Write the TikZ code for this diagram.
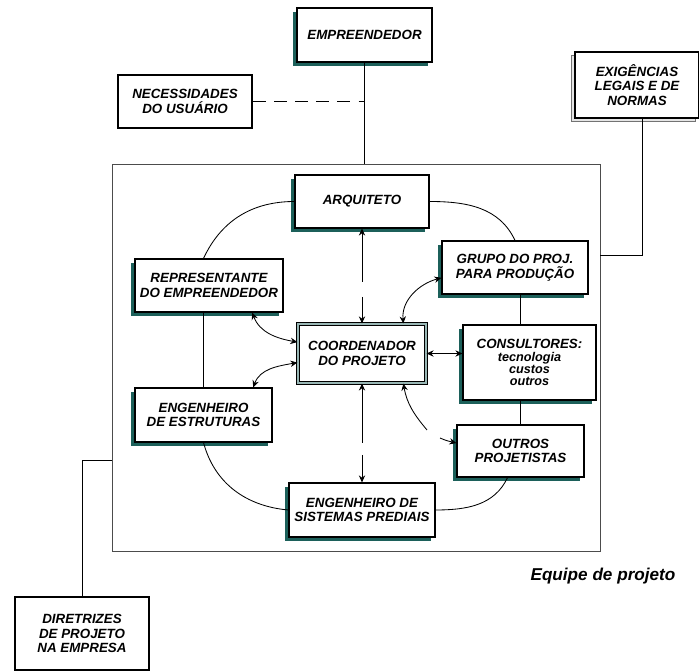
\documentclass[tikz,border=0pt]{standalone}
\usepackage{fontspec}
\setmainfont{Liberation Sans}
\usetikzlibrary{arrows.meta,shadows}

\definecolor{tealsh}{RGB}{28,96,90}

\begin{document}
\begin{tikzpicture}[x=0.025cm, y=0.025cm,
    box/.style={draw, line width=0.8pt, fill=white, align=center,
        font=\bfseries\itshape\fontsize{9.5}{10.5}\selectfont},
    shbox/.style={box, general shadow={fill=tealsh, shadow xshift=-3pt, shadow yshift=-3pt}},
    sz/.style 2 args={minimum width=#1*0.025cm, minimum height=#2*0.025cm, inner sep=0pt},
    link/.style={line width=0.6pt},
    tip/.style={link, >={Stealth[length=5pt, width=4.5pt]}},
    both/.style={tip, <->}
]
    % page = 699 x 671 px
    \useasboundingbox (0,0) rectangle (699,671);

% --------------------
% Team frame
% --------------------
\node[draw=black!70, line width=0.6pt, sz={488}{387}] (equipe) at (356,313.5) {};
\node[font=\bfseries\itshape\fontsize{12.2}{14}\selectfont] (equipelbl) at (603,95) {Equipe de projeto};

% --------------------
% Outside the team
% --------------------
\node[shbox, sz={135}{54}] (emp) at (364.5,636) {EMPREENDEDOR};
\node[box, line width=1.6pt, sz={134}{53}] (nec) at (185,569.5) {NECESSIDADES\\DO USUÁRIO};
\node[box, sz={124}{66}, general shadow={draw=black!55, fill=black!10, shadow xshift=-2.6pt, shadow yshift=-2.6pt}] (exig) at (637,586) {EXIGÊNCIAS\\LEGAIS E DE\\NORMAS};
\node[box, sz={134}{73}] (dir) at (82,37.5) {DIRETRIZES\\DE PROJETO\\NA EMPRESA};

\coordinate (exigin) at (600,416);
\coordinate (dirin) at (112,211);

% --------------------
% Team boxes
% --------------------
\node[shbox, sz={134}{53}] (arq) at (362,469.5) {ARQUITETO};
\node[shbox, sz={148}{53}] (rep) at (209,385.5) {REPRESENTANTE\\DO EMPREENDEDOR};
\node[shbox, sz={146}{53}] (grupo) at (515,403.5) {GRUPO DO PROJ.\\PARA PRODUÇÃO};
\node[box, sz={128}{59}, double=tealsh!45, double distance=1pt] (coord) at (362,317.5) {COORDENADOR\\DO PROJETO};
\node[shbox, sz={133}{75}] (cons) at (529.5,308.5)
    {CONSULTORES:\\[-1pt]{\fontsize{9}{9.5}\selectfont tecnologia}\\[-2pt]{\fontsize{9}{9.5}\selectfont custos}\\[-2pt]{\fontsize{9}{9.5}\selectfont outros}};
\node[shbox, sz={137}{54}] (eng) at (203.5,256) {ENGENHEIRO\\DE ESTRUTURAS};
\node[shbox, sz={127}{52}] (outros) at (520.5,220) {OUTROS\\PROJETISTAS};
\node[shbox, sz={146}{54}] (sis) at (362,161) {ENGENHEIRO DE\\SISTEMAS PREDIAIS};

% gaps in the broken arrows
\coordinate (arqgapA) at (362,389);
\coordinate (arqgapB) at (362,374);
\coordinate (sisgapA) at (362,228);
\coordinate (sisgapB) at (362,216);
\coordinate (outgapA) at (427,241);
\coordinate (outgapB) at (440,233);

% --------------------
% Outside links
% --------------------
\draw[link] (emp.south) -- (emp.south |- equipe.north);
\draw[link, dash pattern=on 9pt off 6pt] (nec.east) -- (nec.east -| emp.south);
\draw[link] (exig.-81) |- (exigin);
\draw[link] (dir.north) |- (dirin);

% --------------------
% Ring around the coordinator
% --------------------
\draw[link] (arq.west) to[out=180, in=65] (eng.north |- rep.north);
\draw[link] (eng.north) -- (eng.north |- rep.south);
\draw[link] (eng.south) to[out=-75, in=175] (sis.west);
\draw[link] (sis.east) to[out=0, in=-115] (outros.-116);
\draw[link] (arq.east) to[out=0, in=115] (grupo.north);
\draw[link] (outros.north) -- (outros.north |- cons.south);
\draw[link] (outros.north |- cons.north) -- (outros.north |- grupo.south);

% --------------------
% Arrows to the coordinator
% --------------------
\draw[tip, <-] (arq.south) -- (arqgapA);
\draw[tip, ->] (arqgapB) -- (coord.north);
\draw[tip, <-] (coord.south) -- (sisgapA);
\draw[tip, ->] (sisgapB) -- (sis.north);
\draw[both] (rep.-32) to[out=-70, in=170] (coord.170);
\draw[both] (eng.29) to[out=70, in=190] (coord.188);
\draw[both] (coord.36) to[out=95, in=195] (grupo.188);
\draw[both] (coord.east) -- (coord.east -| cons.west);
\draw[tip, <-] (coord.-36) to[out=-80, in=130] (outgapA);
\draw[tip, ->] (outgapB) to[out=-25, in=165] (outros.173);

\end{tikzpicture}
\end{document}
